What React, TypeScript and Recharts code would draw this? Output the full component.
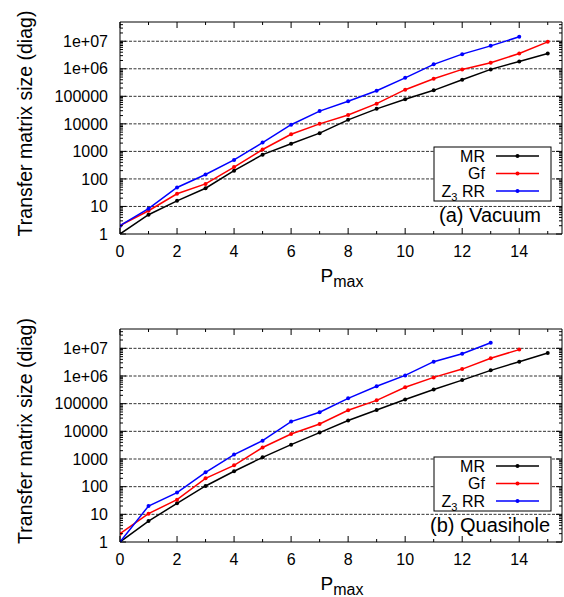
import React from 'react';
import { LineChart, Line, XAxis, YAxis, ReferenceLine, ReferenceArea, Legend, Label } from 'recharts';

// ---------- data ----------
const P_MAX = [0, 1, 2, 3, 4, 5, 6, 7, 8, 9, 10, 11, 12, 13, 14, 15];

// (a) Vacuum
const MR_VACUUM = [1, 5, 16, 46, 200, 760, 1900, 4600, 14000, 35000, 78000, 165000, 400000, 950000, 1850000, 3600000];
const GF_VACUUM = [2, 7, 29, 66, 270, 1170, 4200, 10000, 21000, 54000, 174000, 435000, 950000, 1650000, 3600000, 9500000];
const Z3_VACUUM = [2, 8.3, 49, 145, 490, 2100, 9300, 29000, 66000, 160000, 470000, 1450000, 3400000, 6800000, 14500000];

// (b) Quasihole
const MR_QUASIHOLE = [1, 5.7, 25, 106, 360, 1150, 3300, 9000, 24500, 59000, 141000, 325000, 710000, 1600000, 3300000, 6800000];
const GF_QUASIHOLE = [2, 10.6, 34, 200, 590, 2600, 8000, 18500, 58000, 132000, 390000, 890000, 1780000, 4400000, 9000000];
const Z3_QUASIHOLE = [1, 20, 61, 330, 1440, 4600, 22500, 49000, 156000, 425000, 1050000, 3300000, 6400000, 16000000];

// ---------- axes ----------
const X_TICKS = [0, 1, 2, 3, 4, 5, 6, 7, 8, 9, 10, 11, 12, 13, 14, 15];
const X_DOMAIN: [number, number] = [0, 15.5];
const Y_DOMAIN: [number, number] = [1, 5e7];
const Y_MAJOR = [1, 10, 100, 1000, 10000, 100000, 1000000, 10000000];
const Y_TICK_LABELS = ['1', '10', '100', '1000', '10000', '100000', '1e+06', '1e+07'];
const Y_MINOR_MULT = [1, 2, 3, 4, 5, 6, 7, 8, 9];
const Y_GRID = [10, 100, 1000, 10000, 100000, 1000000, 10000000];

const SERIES_NAMES = ['MR', 'Gf', 'Z3 RR'];
const SERIES_COLORS = ['#000000', '#ff0000', '#0000ff'];

const Y_TICKS = Y_MAJOR.flatMap((m) => Y_MINOR_MULT.map((k) => k * m)).filter((v) => v < Y_DOMAIN[1]);

const FONT = '"Liberation Sans", Arial, Helvetica, sans-serif';

const buildRows = (mr: number[], gf: number[], z3: number[]) =>
  P_MAX.map((p, i) => ({ p, mr: mr[i], gf: gf[i], z3: z3[i] }));

const VACUUM_ROWS = buildRows(MR_VACUUM, GF_VACUUM, Z3_VACUUM);
const QUASIHOLE_ROWS = buildRows(MR_QUASIHOLE, GF_QUASIHOLE, Z3_QUASIHOLE);

const W = 564;
const PLOT_LEFT = 120;
const PLOT_RIGHT = 562;
const PLOT_W = PLOT_RIGHT - PLOT_LEFT;

const makeYTick = () => (props: any) => {
  const { x, y, payload } = props;
  const v = payload.value;
  const idx = Y_MAJOR.indexOf(v);
  const major = idx >= 0;
  const len = major ? 6 : 3;
  return (
    <g>
      <line x1={x} x2={x + len} y1={y} y2={y} stroke="#000" strokeWidth={1} />
      <line x1={x + PLOT_W} x2={x + PLOT_W - len} y1={y} y2={y} stroke="#000" strokeWidth={1} />
      {major && (
        <text x={x - 12} y={y} dy={5.7} textAnchor="end" fontSize={16} fontFamily={FONT} fill="#000">
          {Y_TICK_LABELS[idx]}
        </text>
      )}
    </g>
  );
};

const makeXTick = (plotH: number) => (props: any) => {
  const { x, y, payload } = props;
  const v = payload.value;
  const major = v % 2 === 0;
  const len = major ? 6 : 3;
  return (
    <g>
      <line x1={x} x2={x} y1={y} y2={y - len} stroke="#000" strokeWidth={1} />
      <line x1={x} x2={x} y1={y - plotH} y2={y - plotH + len} stroke="#000" strokeWidth={1} />
      {major && (
        <text x={x} y={y} dy={22.7} textAnchor="middle" fontSize={16} fontFamily={FONT} fill="#000">
          {String(v)}
        </text>
      )}
    </g>
  );
};

const renderYLabel = (props: any) => {
  const vb = props.viewBox || { x: 0, y: 0, width: 120, height: 212 };
  const cx = vb.x + 31.5;
  const cy = vb.y + vb.height / 2 - 4.5;
  return (
    <text x={cx} y={cy} transform={`rotate(-90, ${cx}, ${cy})`} textAnchor="middle" fontSize={19.5} fontFamily={FONT} fill="#000">
      Transfer matrix size (diag)
    </text>
  );
};

const renderXLabel = (props: any) => {
  const vb = props.viewBox || { x: PLOT_LEFT, y: 0, width: PLOT_W, height: 60 };
  const cx = vb.x + vb.width / 2 + 1;
  const cy = vb.y + 47.5;
  return (
    <text x={cx} y={cy} textAnchor="middle" fontFamily={FONT} fill="#000">
      <tspan fontSize={19}>P</tspan>
      <tspan fontSize={16} dy={5.3}>max</tspan>
    </text>
  );
};

const LegendBox = ({ caption }: { caption: string }) => {
  const rows = [9, 26.5, 44];
  return (
    <svg width={140} height={100} style={{ overflow: 'visible', display: 'block' }}>
      <rect x={4} y={4} width={117} height={54} fill="#fff" stroke="#000" strokeWidth={1} />
      {SERIES_NAMES.map((name, i) => (
        <g key={name}>
          <text x={55} y={4 + rows[i]} dy={5.7} textAnchor="end" fontSize={16} fontFamily={FONT} fill="#000">
            {name === 'Z3 RR' ? (
              <>
                <tspan>Z</tspan>
                <tspan fontSize={11} dy={4}>3</tspan>
                <tspan dy={-4}> RR</tspan>
              </>
            ) : (
              name
            )}
          </text>
          <line x1={66} x2={109} y1={4 + rows[i]} y2={4 + rows[i]} stroke={SERIES_COLORS[i]} strokeWidth={1.5} />
          <circle cx={87.5} cy={4 + rows[i]} r={2} fill={SERIES_COLORS[i]} />
        </g>
      ))}
      <text x={60} y={4 + 54 + 20.7} textAnchor="middle" fontSize={20} fontFamily={FONT} fill="#000">
        {caption}
      </text>
    </svg>
  );
};

type PanelProps = {
  rows: any[];
  height: number;
  top: number;
  xAxisHeight: number;
  legendTop: number;
  caption: string;
};

const Panel = ({ rows, height, top, xAxisHeight, legendTop, caption }: PanelProps) => {
  const plotH = height - top - xAxisHeight;
  const keys = ['mr', 'gf', 'z3'];
  return (
    <LineChart width={W} height={height} data={rows} margin={{ top, right: W - PLOT_RIGHT, bottom: 0, left: 0 }}>
      <XAxis
        dataKey="p"
        type="number"
        domain={X_DOMAIN}
        ticks={X_TICKS}
        interval={0}
        tickSize={0}
        tickMargin={0}
        axisLine={false}
        tick={makeXTick(plotH)}
        height={xAxisHeight}
        allowDataOverflow
      >
        <Label content={renderXLabel} />
      </XAxis>
      <YAxis
        type="number"
        scale="log"
        domain={Y_DOMAIN}
        ticks={Y_TICKS}
        interval={0}
        tickSize={0}
        tickMargin={0}
        axisLine={false}
        tick={makeYTick()}
        width={PLOT_LEFT}
        allowDataOverflow
      >
        <Label content={renderYLabel} />
      </YAxis>
      {Y_GRID.map((g) => (
        <ReferenceLine key={g} y={g} stroke="#333" strokeWidth={1} strokeDasharray="3 1.5" />
      ))}
      <ReferenceArea x1={X_DOMAIN[0]} x2={X_DOMAIN[1]} y1={Y_DOMAIN[0]} y2={Y_DOMAIN[1]} fill="none" stroke="#000" strokeWidth={1} />
      {keys.map((k, i) => (
        <Line
          key={k}
          type="linear"
          dataKey={k}
          name={SERIES_NAMES[i]}
          stroke={SERIES_COLORS[i]}
          strokeWidth={1.5}
          dot={{ r: 2, fill: SERIES_COLORS[i], stroke: SERIES_COLORS[i], strokeWidth: 0 }}
          isAnimationActive={false}
        />
      ))}
      <Legend
        layout="horizontal"
        verticalAlign="middle"
        align="center"
        wrapperStyle={{ position: 'absolute', left: 430, top: legendTop - 4, width: 140, height: 100 }}
        content={() => <LegendBox caption={caption} />}
      />
    </LineChart>
  );
};

export default function App() {
  return (
    <div style={{ position: 'absolute', left: 0, top: 0, width: W, height: 597, background: '#fff' }}>
      <div style={{ position: 'absolute', left: 0, top: 0 }}>
        <Panel rows={VACUUM_ROWS} height={300} top={22} xAxisHeight={66} legendTop={147} caption="(a) Vacuum" />
      </div>
      <div style={{ position: 'absolute', left: 0, top: 300 }}>
        <Panel rows={QUASIHOLE_ROWS} height={297} top={29} xAxisHeight={55} legendTop={157} caption="(b) Quasihole" />
      </div>
    </div>
  );
}
